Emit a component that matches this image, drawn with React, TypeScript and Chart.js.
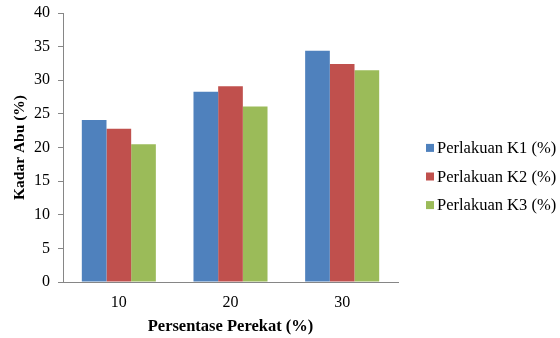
import React, { useEffect, useRef } from "react";
import { Chart, registerables } from "chart.js";

Chart.register(...registerables);

const categories = ["10", "20", "30"];
const seriesLabels = ["Perlakuan K1 (%)", "Perlakuan K2 (%)", "Perlakuan K3 (%)"];
const k1Values = [24.1, 28.3, 34.4];
const k2Values = [22.8, 29.1, 32.4];
const k3Values = [20.5, 26.1, 31.5];
const seriesColors = ["#4F81BD", "#C0504D", "#9BBB59"];
const yTitle = "Kadar Abu (%)";
const xTitle = "Persentase Perekat (%)";

const FONT = "'Liberation Serif', 'Times New Roman', serif";
const AXIS_GRAY = "#868686";

// Vertical legend drawn to the right of the plot area
const sideLegend = {
  id: "sideLegend",
  afterDraw(chart: any) {
    const { ctx, chartArea } = chart;
    const x0 = chartArea.right + 28;
    const yCenter = 176.5;
    const gap = 28.6;
    ctx.save();
    ctx.font = `16.5px ${FONT}`;
    ctx.textBaseline = "middle";
    ctx.textAlign = "left";
    chart.data.datasets.forEach((ds: any, i: number) => {
      const y = yCenter + (i - 1) * gap;
      ctx.fillStyle = ds.backgroundColor;
      ctx.fillRect(x0, y - 4, 8, 8);
      ctx.fillStyle = "#000";
      ctx.fillText(ds.label, x0 + 11, y + 1);
    });
    ctx.restore();
  },
};

export default function App() {
  const canvasRef = useRef<HTMLCanvasElement | null>(null);

  useEffect(() => {
    const canvas = canvasRef.current;
    if (!canvas) return;
    const valueSets = [k1Values, k2Values, k3Values];
    const chart = new Chart(canvas, {
      type: "bar",
      data: {
        labels: categories,
        datasets: valueSets.map((vals, i) => ({
          label: seriesLabels[i],
          data: vals,
          backgroundColor: seriesColors[i],
          borderWidth: 0,
          categoryPercentage: 0.663,
          barPercentage: 1,
        })),
      },
      options: {
        responsive: false,
        animation: false,
        layout: { padding: { top: 13, right: 162, bottom: 0, left: 0 } },
        plugins: {
          legend: { display: false },
          tooltip: { enabled: false },
        },
        scales: {
          x: {
            grid: { display: false, drawTicks: false },
            border: { display: true, color: AXIS_GRAY, width: 1 },
            ticks: { color: "#000", font: { family: FONT, size: 16 }, padding: 11 },
            title: {
              display: true,
              text: xTitle,
              color: "#000",
              font: { family: FONT, size: 16.5, weight: "bold" },
              padding: { top: 0, bottom: 1 },
            },
            afterFit: (s: any) => {
              s.height = 56;
            },
          },
          y: {
            min: 0,
            max: 40,
            grid: {
              display: true,
              drawOnChartArea: false,
              drawTicks: true,
              tickLength: 5,
              color: AXIS_GRAY,
            },
            border: { display: true, color: AXIS_GRAY, width: 1 },
            ticks: {
              stepSize: 5,
              color: "#000",
              font: { family: FONT, size: 16 },
              padding: 8,
            },
            title: {
              display: true,
              text: yTitle,
              color: "#000",
              font: { family: FONT, size: 15.5, weight: "bold" },
              padding: { top: 11, bottom: 0 },
            },
            afterFit: (s: any) => {
              s.width = 63;
            },
            afterUpdate: (s: any) => {
              // pin the plot top so the 40 tick sits near the canvas top
              s.paddingTop = 0;
            },
          },
        },
      },
      plugins: [sideLegend],
    });
    return () => chart.destroy();
  }, []);

  return (
    <div style={{ position: "fixed", left: 0, top: 0, width: 560, height: 338, background: "#fff" }}>
      <canvas ref={canvasRef} width={560} height={338} />
    </div>
  );
}
